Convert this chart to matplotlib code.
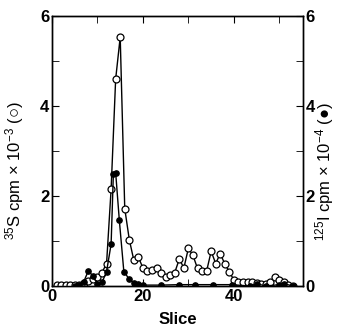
import matplotlib
matplotlib.use("Agg")
import matplotlib.pyplot as plt
from matplotlib.ticker import MultipleLocator

plt.rcParams["font.family"] = ["Liberation Sans", "DejaVu Sans"]
plt.rcParams["mathtext.default"] = "regular"

# =========================
# DATOS
# =========================
# 35S (circulos abiertos, eje izquierdo, x 10^-3)
slice_s35 = list(range(1, 54))
cpm_s35 = [0.02, 0.02, 0.02, 0.02, 0.02, 0.03, 0.06, 0.12, 0.15, 0.2,
           0.3, 0.5, 2.15, 4.6, 5.53, 1.72, 1.03, 0.57, 0.64, 0.4,
           0.33, 0.36, 0.41, 0.3, 0.19, 0.24, 0.3, 0.6, 0.4, 0.84,
           0.68, 0.39, 0.34, 0.33, 0.77, 0.5, 0.72, 0.49, 0.32, 0.13,
           0.1, 0.08, 0.08, 0.08, 0.06, 0.04, 0.04, 0.08, 0.19, 0.13,
           0.08, 0.03, 0.0]

# 125I (circulos llenos, eje derecho, x 10^-4)
slice_i125 = [5, 6, 7, 8, 9, 10, 11, 12, 13, 13.5, 14, 14.8, 15.8, 17, 18,
              19, 20, 24, 28, 31.5, 35.5, 39.5, 43.5, 45, 47, 50, 51, 53]
cpm_i125 = [0.0, 0.02, 0.1, 0.34, 0.22, 0.05, 0.08, 0.32, 0.93, 2.5, 2.52,
            1.47, 0.32, 0.15, 0.07, 0.04, 0.02, 0.02, 0.03, 0.03, 0.03,
            0.03, 0.0, 0.05, 0.0, 0.03, 0.05, 0.0]

# =========================
# FIGURA
# =========================
W, H = 338, 326
fig = plt.figure(figsize=(W / 100, H / 100), dpi=100)
ax = fig.add_axes([52 / W, 40 / H, 251 / W, 270 / H])
ax2 = ax.twinx()

ax.plot(slice_s35, cpm_s35, color="black", lw=1.0, marker="o", ms=5.0,
        mfc="white", mec="black", mew=0.9, zorder=3)
ax2.plot(slice_i125, cpm_i125, color="black", lw=1.0, marker="o", ms=3.8,
         mfc="black", mec="black", zorder=2)

for a in (ax, ax2):
    a.set_xlim(0, 55.2)
    a.set_ylim(0, 6)
    a.yaxis.set_major_locator(MultipleLocator(2))
    a.yaxis.set_minor_locator(MultipleLocator(1))
    for sp in a.spines.values():
        sp.set_linewidth(1.0)

ax.xaxis.set_major_locator(MultipleLocator(20))
ax.xaxis.set_minor_locator(MultipleLocator(10))
ax.tick_params(axis="both", which="both", direction="in", top=True,
               labelsize=12, pad=2, length=5)
ax2.tick_params(axis="y", which="both", direction="in", labelsize=12,
                pad=2, length=5)

for lab in ax.get_xticklabels() + ax.get_yticklabels() + ax2.get_yticklabels():
    lab.set_fontweight("bold")

ax.set_xlabel("Slice", fontsize=12, fontweight="bold", labelpad=6)

fig.text(15 / W, 1 - 171 / H, "$^{35}$S cpm \u00d7 10$^{-3}$ (\u25cb)",
         fontsize=12, rotation=90, ha="center", va="center")
fig.text(325 / W, 1 - 172 / H, "$^{125}$I cpm \u00d7 10$^{-4}$ (\u25cf)",
         fontsize=12, rotation=90, ha="center", va="center")

fig.savefig("out.png", dpi=100)
